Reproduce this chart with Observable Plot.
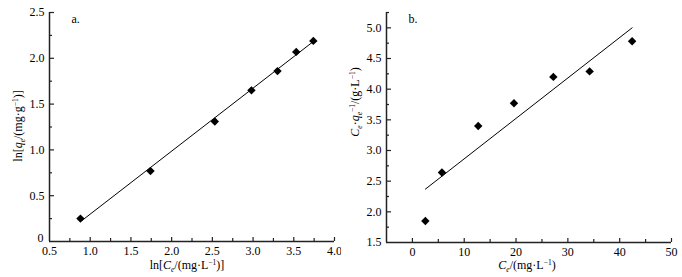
<!DOCTYPE html>
<html><head><meta charset="utf-8">
<script src="https://cdn.jsdelivr.net/npm/d3@7"></script>
<script src="https://cdn.jsdelivr.net/npm/@observablehq/plot@0.6"></script>
<style>
body{margin:0;background:#fff}
#c{display:flex;width:682px;height:277px}
#c svg{display:block}
</style>
</head><body><div id="c"></div>
<script>
// Panel a: Freundlich
const lnCe = [0.88, 1.74, 2.53, 2.98, 3.30, 3.53, 3.74];
const lnQe = [0.25, 0.77, 1.31, 1.65, 1.86, 2.07, 2.19];
const fitAx = [0.90, 3.75];
const fitAy = [0.23, 2.19];
const ticksAxLabels = [0.5, 1.0, 1.5, 2.0, 2.5, 3.0, 3.5, 4.0];
const ticksAyLabels = [0, 0.5, 1.0, 1.5, 2.0, 2.5];
const ticksAxMinor = [0.75, 1.25, 1.75, 2.25, 2.75, 3.25, 3.75];
const ticksAyMinor = [0.25, 0.75, 1.25, 1.75, 2.25];
// Panel b: Langmuir
const Ce = [2.5, 5.7, 12.7, 19.6, 27.2, 34.2, 42.4];
const CeQe = [1.85, 2.64, 3.40, 3.77, 4.20, 4.29, 4.78];
const fitBx = [2.5, 42.4];
const fitBy = [2.37, 5.0];
const ticksBxLabels = [0, 10, 20, 30, 40, 50];
const ticksByLabels = [1.5, 2.0, 2.5, 3.0, 3.5, 4.0, 4.5, 5.0];
const ticksBxMinor = [5, 15, 25, 35, 45];
const ticksByMinor = [1.75, 2.25, 2.75, 3.25, 3.75, 4.25, 4.75, 5.25];

const pts = (xs, ys) => xs.map((x, i) => ({x, y: ys[i]}));
const FONT = "'Liberation Serif', 'Times New Roman', serif";
const W = 341, H = 277;
const blank = () => "";
const AX = "#222";

function panel({xs, ys, fx, fy, xDomain, yDomain, xl, yl, xm, ym, xfmt, yfmt, margins, tag}) {
  const xMajor = xl.filter(d => d > xDomain[0]);
  const yMajor = yl.filter(d => d > yDomain[0]);
  const corner = xl.includes(xDomain[0]); // x label at the origin corner
  const yMain = corner ? yMajor : yl;
  const yCorner = corner ? yl.filter(d => d === yDomain[0]) : [];
  return Plot.plot({
    width: W, height: H, ...margins,
    style: {fontFamily: FONT, fontSize: "12px", color: "#000", background: "#fff", overflow: "visible"},
    x: {domain: xDomain, label: null},
    y: {domain: yDomain, label: null},
    marks: [
      // inward tick marks: axis ticks shifted into the frame
      Plot.axisX({ticks: xMajor, anchor: "bottom", tickSize: 4, dy: -4, tickFormat: blank, stroke: AX, strokeWidth: 1.2, label: null}),
      Plot.axisX({ticks: xm, anchor: "bottom", tickSize: 3, dy: -3, tickFormat: blank, stroke: AX, strokeWidth: 1.2, label: null}),
      Plot.axisY({ticks: yMajor, anchor: "left", tickSize: 5, dx: 5, tickFormat: blank, stroke: AX, strokeWidth: 1.2, label: null}),
      Plot.axisY({ticks: ym, anchor: "left", tickSize: 3, dx: 3, tickFormat: blank, stroke: AX, strokeWidth: 1.2, label: null}),
      // tick labels
      Plot.axisX({ticks: xl, anchor: "bottom", tickSize: 0, tickPadding: 5, tickFormat: xfmt, fill: "#000", label: null}),
      Plot.axisY({ticks: yMain, anchor: "left", tickSize: 0, tickPadding: 5, tickFormat: yfmt, fill: "#000", label: null}),
      Plot.axisY({ticks: yCorner, anchor: "left", tickSize: 0, tickPadding: 6, dy: -3, tickFormat: yfmt, fill: "#000", label: null}),
      Plot.ruleX([xDomain[0]], {stroke: AX, strokeWidth: 1.5}),
      Plot.ruleY([yDomain[0]], {stroke: AX, strokeWidth: 1.5}),
      Plot.line(pts(fx, fy), {x: "x", y: "y", stroke: "#000", strokeWidth: 1}),
      Plot.dot(pts(xs, ys), {x: "x", y: "y", symbol: "diamond2", r: 3.8, fill: "#000", stroke: "none"}),
      Plot.text([tag], {frameAnchor: "top-left", dx: 22, dy: 2, fontSize: 12, fill: "#000", textAnchor: "start"})
    ]
  });
}

const A = panel({
  xs: lnCe, ys: lnQe, fx: fitAx, fy: fitAy,
  xDomain: [0.5, 4.0], yDomain: [0, 2.5],
  xl: ticksAxLabels, yl: ticksAyLabels, xm: ticksAxMinor, ym: ticksAyMinor,
  xfmt: d => d.toFixed(1), yfmt: d => d === 0 ? "0" : d.toFixed(1),
  margins: {marginLeft: 49, marginRight: 7, marginTop: 12, marginBottom: 36},
  tag: "a."
});
const B = panel({
  xs: Ce, ys: CeQe, fx: fitBx, fy: fitBy,
  xDomain: [-5, 50], yDomain: [1.5, 5.25],
  xl: ticksBxLabels, yl: ticksByLabels, xm: ticksBxMinor, ym: ticksByMinor,
  xfmt: d => String(d), yfmt: d => d.toFixed(1),
  margins: {marginLeft: 45, marginRight: 11, marginTop: 12, marginBottom: 35},
  tag: "b."
});

// rich text labels: parts [text, style]
function richLabel(svg, parts, x, y, rotate) {
  const t = d3.select(svg).append("text")
    .attr("text-anchor", "middle")
    .attr("font-family", FONT).attr("font-size", 12).attr("fill", "#000")
    .attr("transform", `translate(${x},${y})` + (rotate ? " rotate(-90)" : ""));
  let off = 0;
  for (const [s, st = ""] of parts) {
    const ts = t.append("tspan").text(s);
    let target = 0;
    if (st.includes("sub")) target = 3;
    if (st.includes("sup")) target = -4;
    if (target !== off) { ts.attr("dy", target - off); off = target; }
    if (st.includes("sub") || st.includes("sup")) ts.attr("font-size", 7.5);
    if (st.includes("i")) ts.attr("font-style", "italic");
  }
}
richLabel(A, [["ln["], ["C", "i"], ["e", "i sub"], ["/(mg·L"], ["−1", "sup"], [")]"]], 187, 269, false);
richLabel(A, [["ln["], ["q", "i"], ["e", "i sub"], ["/(mg·g"], ["−1", "sup"], [")]"]], 22, 126, true);
richLabel(B, [["C", "i"], ["e", "i sub"], ["/(mg·L"], ["−1", "sup"], [")"]], 186, 269, false);
richLabel(B, [["C", "i"], ["e", "i sub"], ["·"], ["q", "i"], ["e", "i sub"], ["−1", "sup"], ["/(g·L"], ["−1", "sup"], [")"]], 18, 102, true);

document.getElementById("c").append(A, B);
</script></body></html>
